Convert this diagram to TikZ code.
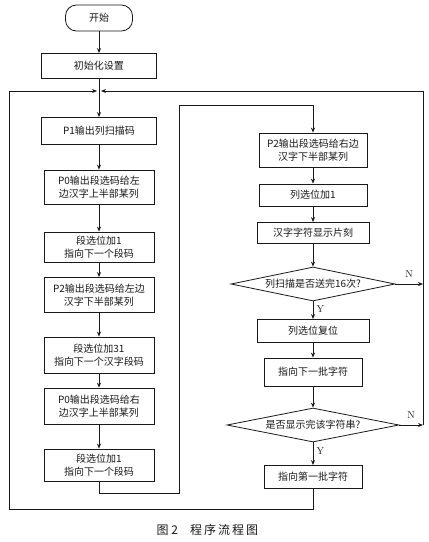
\documentclass[tikz,border=0pt]{standalone}
\usepackage{fontspec}
\newfontfamily\cjk{Noto Sans CJK SC}
\usetikzlibrary{arrows.meta,shapes.geometric}
\begin{document}
\begin{tikzpicture}[x=1pt,y=-1pt,
  line width=0.8pt, draw=black!90,
  every node/.style={font=\cjk\fontsize{10}{13}\selectfont, text=black!90, align=center},
  box/.style={draw, minimum height=#1, inner sep=1pt},
  box/.default=24pt,
  lbox/.style={box=#1, minimum width=110pt},
  rbox/.style={box=#1, minimum width=108pt},
  dec/.style={draw, diamond, aspect=4.8, inner sep=0.5pt},
  arr/.style={-{Stealth[length=5pt,width=4pt]}},
  lab/.style={font=\fontsize{10}{11}\selectfont}
]
\useasboundingbox (0,0) rectangle (429,542);
\fill[white] (0,0) rectangle (429,542);

% left column
\node[draw, rounded corners=11pt, minimum width=67pt, minimum height=26pt] (start) at (99,18) {开始};
\node[box=25pt, minimum width=115pt] (init) at (99,66) {初始化设置};
\node[box=27pt, minimum width=115pt] (p1) at (99,131) {P1输出列扫描码};
\node[lbox=34pt] (p0l) at (99,187) {P0输出段选码给左\\边汉字上半部某列};
\node[lbox=30pt] (inc1) at (99,247) {段选位加1\\指向下一个段码};
\node[lbox=35pt] (p2l) at (99,295) {P2输出段选码给左边\\汉字下半部某列};
\node[lbox=36pt] (inc31) at (99,355) {段选位加31\\指向下一个汉字段码};
\node[lbox=36pt] (p0r) at (99,406) {P0输出段选码给右\\边汉字上半部某列};
\node[lbox=32pt] (inc1b) at (99,465) {段选位加1\\指向下一个段码};

% right column
\node[rbox=34pt] (p2r) at (313,150) {P2输出段选码给右边\\汉字下半部某列};
\node[rbox=22pt] (colinc) at (313,195) {列选位加1};
\node[box=21pt, minimum width=112pt] (show) at (313,233) {汉字字符显示片刻};
\node[dec, minimum width=164pt, minimum height=34pt] (d1) at (313,284) {列扫描是否送完16次?};
\node[box=23pt, minimum width=112pt] (colrst) at (313,331) {列选位复位};
\node[box=28pt, minimum width=98pt] (next) at (313,372) {指向下一批字符};
\node[dec, minimum width=172pt, minimum height=34pt] (d2) at (313,425) {是否显示完该字符串?};
\node[box=23pt, minimum width=98pt] (first) at (313,477) {指向第一批字符};

% coordinates
\coordinate (j) at (99,91);
\coordinate (rt) at (423,91);
\coordinate (r1) at (423,284);
\coordinate (r2) at (423,425);
\coordinate (lb) at (9,509);
\coordinate (lt) at (9,91);
\coordinate (fb) at (313,509);
\coordinate (ib) at (99,493);
\coordinate (mb) at (179,493);
\coordinate (mt) at (179,105);
\coordinate (pt) at (313,105);

% left column arrows
\draw[arr] (start) -- (init);
\draw[arr] (init) -- (p1);
\draw[arr] (p1) -- (p0l);
\draw[arr] (p0l) -- (inc1);
\draw[arr] (inc1) -- (p2l);
\draw[arr] (p2l) -- (inc31);
\draw[arr] (inc31) -- (p0r);
\draw[arr] (p0r) -- (inc1b);

% transfer to right column
\draw[arr] (inc1b.south) -- (ib) -- (mb) -- (mt) -- (pt) -- (p2r.north);

% right column arrows
\draw[arr] (p2r) -- (colinc);
\draw[arr] (colinc) -- (show);
\draw[arr] (show) -- (d1);
\draw[arr] (d1) -- node[lab, right, pos=0.45] {Y} (colrst);
\draw[arr] (colrst) -- (next);
\draw[arr] (next) -- (d2);
\draw[arr] (d2) -- node[lab, right, pos=0.4] {Y} (first);

% N branches
\draw[arr] (d1.east) -- node[lab, above, pos=0.5, yshift=3pt] {N} (r1);
\draw[arr] (d2.east) -- node[lab, above, pos=0.5, yshift=3pt] {N} (r2);
\draw[arr, shorten >=2pt] (r2) -- (rt) -- (j);

% return loop
\draw[arr, shorten >=2pt] (first.south) -- (fb) -- (lb) -- (lt) -- (j);

% caption
\node[font=\cjk\fontsize{12}{14}\selectfont, anchor=west] (cap) at (153,530) {图\ 2\quad 程\,序\,流\,程\,图};
\end{tikzpicture}
\end{document}
